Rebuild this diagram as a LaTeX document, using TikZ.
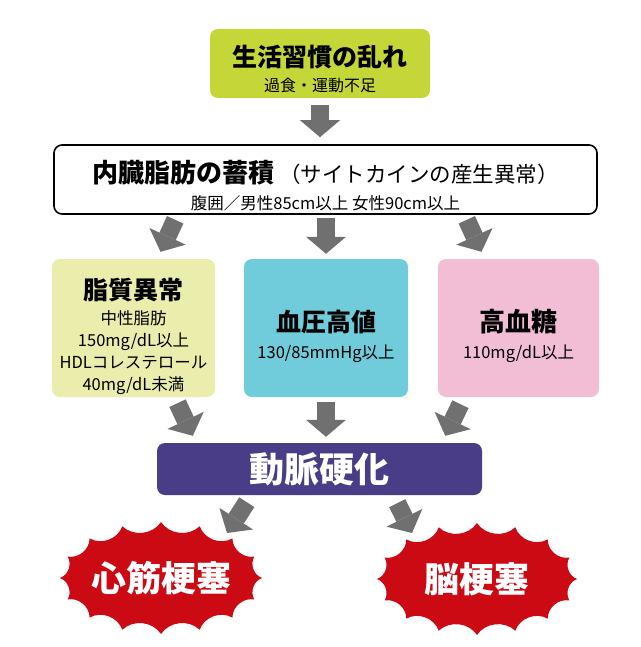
\documentclass[tikz,border=0pt]{standalone}
\usepackage{fontspec}
\setmainfont{Noto Sans CJK JP}
\usepackage{xcolor}
\usepackage{tikz}
\usetikzlibrary{arrows.meta}

\definecolor{limebox}{RGB}{197,214,56}
\definecolor{lipidbox}{RGB}{234,237,172}
\definecolor{pressurebox}{RGB}{112,204,219}
\definecolor{sugarbox}{RGB}{242,190,214}
\definecolor{atherobox}{RGB}{74,61,136}
\definecolor{burstred}{RGB}{204,10,20}
\definecolor{arrowgrey}{RGB}{112,112,112}

\tikzset{
  box/.style={rounded corners=8pt, inner sep=0pt},
  fatarrow/.style={draw=arrowgrey, line width=18pt,
    -{Triangle[width=40pt,length=17pt,line width=0pt]}},
  bigtext/.style={font=\fontsize{35}{40}\selectfont\bfseries, text=white},
}

\begin{document}
\begin{tikzpicture}[x=1pt, y=-1pt]
  \useasboundingbox (0,0) rectangle (640,647);

  % top
  \node[box, fill=limebox, minimum width=220pt, minimum height=69pt] (life) at (320,63.5) {};
  \node[align=center, font=\fontsize{16}{25}\selectfont] (lifetext) at ([yshift=-5pt]life.center)
    {{\fontsize{25}{30}\selectfont\bfseries 生活習慣の乱れ}\\過食・運動不足};

  \node[box, draw, line width=1.6pt, minimum width=543pt, minimum height=69pt] (fat) at (325.5,179.5) {};
  \node[align=center, font=\fontsize{16.5}{27}\selectfont] (fattext) at ([yshift=-6pt]fat.center)
    {{\fontsize{26}{30}\selectfont\bfseries 内臓脂肪の蓄積}\hspace{5pt}{\fontsize{21.5}{30}\selectfont （サイトカインの産生異常）}\\
     腹囲／男性85cm以上 女性90cm以上};

  % the three risks
  \node[box, fill=lipidbox, minimum width=163pt, minimum height=138pt] (lipid) at (133.5,328) {};
  \node[align=center, font=\fontsize{16.5}{22}\selectfont] (lipidtext) at ([yshift=-8pt]lipid.center)
    {{\fontsize{25}{30}\selectfont\bfseries 脂質異常}\\[3pt]中性脂肪\\150mg/dL以上\\HDLコレステロール\\40mg/dL未満};

  \node[box, fill=pressurebox, minimum width=164pt, minimum height=138pt] (pressure) at (326,328) {};
  \node[align=center, font=\fontsize{16.5}{27}\selectfont] (pressuretext) at ([yshift=-8pt]pressure.center)
    {{\fontsize{25}{30}\selectfont\bfseries 血圧高値}\\130/85mmHg以上};

  \node[box, fill=sugarbox, minimum width=161pt, minimum height=138pt] (sugar) at (518.5,328) {};
  \node[align=center, font=\fontsize{16.5}{27}\selectfont] (sugartext) at ([yshift=-8pt]sugar.center)
    {{\fontsize{26}{30}\selectfont\bfseries 高血糖}\\110mg/dL以上};

  \node[box, fill=atherobox, minimum width=325pt, minimum height=52pt, bigtext] (athero) at (319.5,469) {動脈硬化};

  % outcomes, 16 spikes each
  \coordinate (infarctc) at (161,578);
  \coordinate (strokec) at (477,579);
  \foreach \c/\rx in {infarctc/101, strokec/100} {
    \fill[burstred] ([shift={(\c)}]0:{\rx} and 56)
      \foreach \i in {1,...,16} { to[bend right=50] ([shift={(\c)}]\i*22.5:{\rx} and 56) } -- cycle;
  }
  \node[bigtext] (infarct) at (infarctc) {心筋梗塞};
  \node[bigtext] (stroke) at (strokec) {脳梗塞};

  % arrows
  \draw[fatarrow] ([yshift=-7pt]life.south) -- ([yshift=7pt]life.south |- fat.north);
  \draw[fatarrow] ([xshift=122pt,yshift=-5pt]fat.south west) -- ([xshift=27pt,yshift=7pt]lipid.north);
  \draw[fatarrow] ([yshift=-3pt]pressure.north |- fat.south) -- ([yshift=5pt]pressure.north);
  \draw[fatarrow] ([xshift=-131pt,yshift=-5pt]fat.south east) -- ([xshift=-37pt,yshift=7pt]sugar.north);
  \draw[fatarrow] ([xshift=44pt,yshift=-6pt]lipid.south) -- ([xshift=36pt,yshift=7pt]athero.north west);
  \draw[fatarrow] ([yshift=-5pt]pressure.south) -- ([yshift=6pt]pressure.south |- athero.north);
  \draw[fatarrow] ([xshift=-58pt,yshift=-7pt]sugar.south) -- ([xshift=-37pt,yshift=7pt]athero.north east);
  \draw[fatarrow] ([xshift=90pt,yshift=-7pt]athero.south west) -- ([xshift=66pt,yshift=45pt]infarct.center);
  \draw[fatarrow] ([xshift=-85pt,yshift=-8pt]athero.south east) -- ([xshift=-65pt,yshift=46pt]stroke.center);
\end{tikzpicture}
\end{document}
